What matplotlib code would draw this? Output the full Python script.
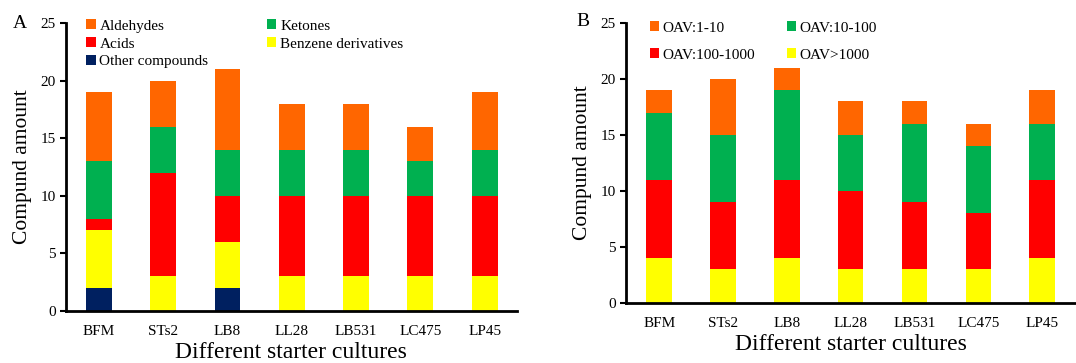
import matplotlib
matplotlib.use("Agg")
import matplotlib.pyplot as plt
import numpy as np

plt.rcParams['font.family'] = ['Liberation Serif', 'DejaVu Serif']

cultures = ["BFM", "STs2", "LB8", "LL28", "LB531", "LC475", "LP45"]

# Panel A (bottom to top)
other = [2, 0, 2, 0, 0, 0, 0]
benzene = [5, 3, 4, 3, 3, 3, 3]
acids = [1, 9, 4, 7, 7, 7, 7]
ketones = [5, 4, 4, 4, 4, 3, 4]
aldehydes = [6, 4, 7, 4, 4, 3, 5]

# Panel B (bottom to top)
oav_gt1000 = [4, 3, 4, 3, 3, 3, 4]
oav_100_1000 = [7, 6, 7, 7, 6, 5, 7]
oav_10_100 = [6, 6, 8, 5, 7, 6, 5]
oav_1_10 = [2, 5, 2, 3, 2, 2, 3]

C_OR = "#FF6600"
C_GR = "#00B050"
C_RD = "#FF0000"
C_YE = "#FFFF00"
C_NV = "#002060"

fig = plt.figure(figsize=(10.76, 3.63), dpi=100)
axA = fig.add_axes([0.0613, 0.1433, 0.419, 0.7933])
axB = fig.add_axes([0.5818, 0.1653, 0.4182, 0.7713])

x = np.arange(len(cultures))
w = 0.4

def stack(ax, series):
    bottom = np.zeros(len(cultures))
    handles = {}
    for vals, col, lab in series:
        b = ax.bar(x, vals, w, bottom=bottom, color=col, label=lab, linewidth=0)
        handles[lab] = b
        bottom += np.array(vals)
    return handles

hA = stack(axA, [(other, C_NV, "Other compounds"), (benzene, C_YE, "Benzene derivatives"),
                 (acids, C_RD, "Acids"), (ketones, C_GR, "Ketones"), (aldehydes, C_OR, "Aldehydes")])
hB = stack(axB, [(oav_gt1000, C_YE, "OAV>1000"), (oav_100_1000, C_RD, "OAV:100-1000"),
                 (oav_10_100, C_GR, "OAV:10-100"), (oav_1_10, C_OR, "OAV:1-10")])

for ax, xl in ((axA, (-0.51, 6.5)), (axB, (-0.52, 6.53))):
    ax.set_xlim(*xl)
    ax.set_ylim(0, 25)
    ax.set_yticks([0, 5, 10, 15, 20, 25])
    ax.set_xticks(x)
    ax.set_xticklabels(cultures, fontsize=11)
    ax.tick_params(axis='y', labelsize=11, width=1.5, length=4, direction='out')
    ax.tick_params(axis='x', length=0, pad=10)
    for s in ("top", "right"):
        ax.spines[s].set_visible(False)
    for s in ("left", "bottom"):
        ax.spines[s].set_linewidth(2)
    ax.set_xlabel("Different starter cultures", fontsize=17, labelpad=3)
    ax.set_ylabel("Compund amount", fontsize=15.5, labelpad=6)

order_A = ["Aldehydes", "Acids", "Other compounds", "Ketones", "Benzene derivatives"]
axA.legend([hA[k] for k in order_A], order_A, ncol=2, loc="upper left",
           bbox_to_anchor=(0.015, 1.06), frameon=False, fontsize=11,
           handlelength=0.6, handleheight=0.6, handletextpad=0.25,
           columnspacing=3.85, labelspacing=0.3)

order_B = ["OAV:1-10", "OAV:100-1000", "OAV:10-100", "OAV>1000"]
axB.legend([hB[k] for k in order_B], order_B, ncol=2, loc="upper left",
           bbox_to_anchor=(0.022, 1.055), frameon=False, fontsize=11,
           handlelength=0.6, handleheight=0.6, handletextpad=0.25,
           columnspacing=2.05, labelspacing=0.9)

fig.text(20 / 1076, 1 - 24 / 363, "A", fontsize=14, ha="center", va="center")
fig.text(583 / 1076, 1 - 22 / 363, "B", fontsize=14, ha="center", va="center")

fig.savefig("out.png", dpi=100)
